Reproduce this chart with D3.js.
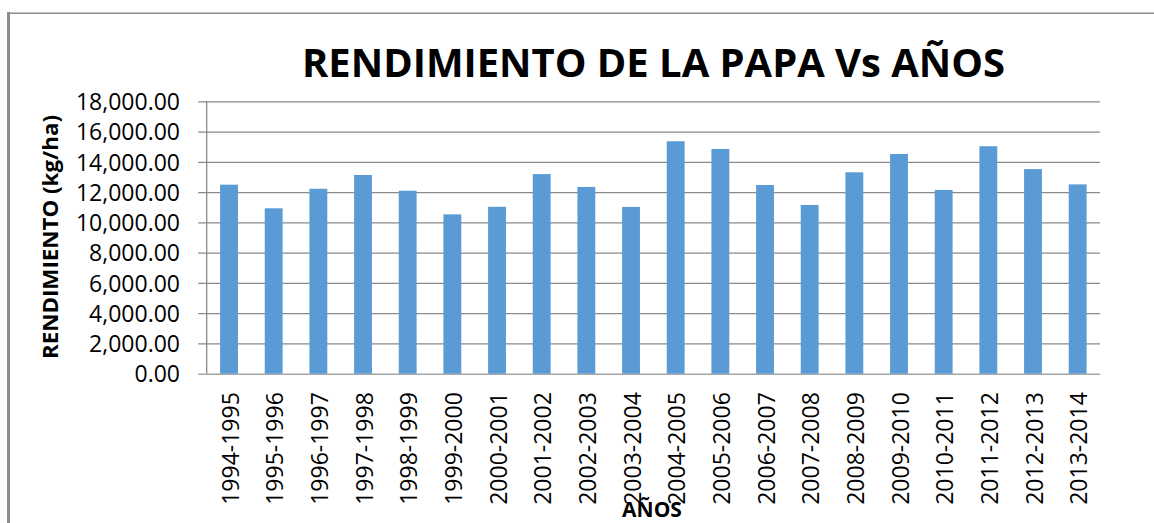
<!DOCTYPE html>
<html>
<head>
<meta charset="utf-8">
<script src="https://cdn.jsdelivr.net/npm/d3@7"></script>
<style>
  body { margin: 0; background: #fff; }
  svg { display: block; font-family: "Open Sans", sans-serif; }
</style>
</head>
<body>
<div id="chart"></div>
<script>
// campaign years
var years = ["1994-1995", "1995-1996", "1996-1997", "1997-1998", "1998-1999",
	"1999-2000", "2000-2001", "2001-2002", "2002-2003", "2003-2004",
	"2004-2005", "2005-2006", "2006-2007", "2007-2008", "2008-2009",
	"2009-2010", "2010-2011", "2011-2012", "2012-2013", "2013-2014"];

// rendimiento kg/ha
var rendimiento = [12490, 10930, 12220, 13130, 12090,
	10530, 11030, 13190, 12340, 11020,
	15360, 14850, 12470, 11150, 13310,
	14520, 12140, 15030, 13520, 12510];

var yTicks = [0, 2000, 4000, 6000, 8000, 10000, 12000, 14000, 16000, 18000];

var data = years.map((d, i) => ({ year: d, value: rendimiento[i] }));

var W = 1154, H = 523;
var plot = { left: 206.7, right: 1100, top: 101.3, bottom: 373.7 };

var svg = d3.select("#chart")
	.append("svg")
	.attr("width", W)
	.attr("height", H);

// outer frame (chart area border, partly cut off)
svg.append("line")
	.attr("x1", 8.5).attr("x2", 8.5)
	.attr("y1", 12).attr("y2", H)
	.attr("stroke", "#8c8c8c").attr("stroke-width", 3);
svg.append("line")
	.attr("x1", 7).attr("x2", W)
	.attr("y1", 13.2).attr("y2", 13.2)
	.attr("stroke", "#8c8c8c").attr("stroke-width", 1.6);

var xScale = d3.scaleBand()
	.domain(years)
	.range([plot.left, plot.right])
	.paddingInner(0.6)
	.paddingOuter(0.3);

var yScale = d3.scaleLinear()
	.domain([0, 18000])
	.range([plot.bottom, plot.top]);

// gridlines + little tick marks left of the axis
var grid = svg.append("g")
	.attr("transform", `translate(${plot.left - 8.5},0)`)
	.call(d3.axisRight(yScale).tickValues(yTicks)
		.tickSize(plot.right - plot.left + 8.5).tickFormat(""));
grid.select(".domain").remove();
grid.selectAll("line")
	.attr("stroke", "#8a8a8a")
	.attr("stroke-width", 1.3);
grid.selectAll("line").filter(d => d === 0)
	.attr("stroke", "#a6a6a6")
	.attr("stroke-width", 1.6);

// vertical axis line
svg.append("line")
	.attr("x1", plot.left).attr("x2", plot.left)
	.attr("y1", plot.top).attr("y2", plot.bottom)
	.attr("stroke", "#8a8a8a")
	.attr("stroke-width", 1.3);

// bars
svg.selectAll("rect.bar")
	.data(data)
	.enter()
	.append("rect")
	.attr("class", "bar")
	.attr("x", d => xScale(d.year))
	.attr("y", d => yScale(d.value))
	.attr("width", xScale.bandwidth())
	.attr("height", d => yScale(0) - yScale(d.value))
	.attr("fill", "#5b9bd5");

// y tick labels
var yAxis = svg.append("g")
	.attr("transform", `translate(${plot.left},0)`)
	.call(d3.axisLeft(yScale).tickValues(yTicks)
		.tickSize(0).tickPadding(26.7).tickFormat(d3.format(",.2f")));
yAxis.select(".domain").remove();
yAxis.selectAll("text")
	.attr("font-family", "'Open Sans', sans-serif")
	.attr("font-size", 23)
	.attr("fill", "#000")
	.attr("dy", "0.36em");

// x tick labels, rotated
var xAxis = svg.append("g")
	.attr("transform", `translate(0,${plot.bottom})`)
	.call(d3.axisBottom(xScale).tickSize(0));
xAxis.select(".domain").remove();
xAxis.selectAll("text")
	.attr("font-family", "'Open Sans', sans-serif")
	.attr("font-size", 23)
	.attr("fill", "#000")
	.attr("text-anchor", "end")
	.attr("dy", null)
	.attr("y", 0)
	.attr("x", 0)
	.attr("transform", "translate(9.5,18.5) rotate(-90)");

// title
svg.append("text")
	.attr("x", 302)
	.attr("y", 76.7)
	.attr("font-size", 40)
	.attr("font-weight", "bold")
	.attr("textLength", 703)
	.attr("lengthAdjust", "spacingAndGlyphs")
	.text("RENDIMIENTO DE LA PAPA Vs AÑOS");

// axis titles
svg.append("text")
	.attr("transform", "translate(58,237) rotate(-90)")
	.attr("text-anchor", "middle")
	.attr("font-size", 21)
	.attr("font-weight", "bold")
	.attr("textLength", 244)
	.attr("lengthAdjust", "spacingAndGlyphs")
	.text("RENDIMIENTO (kg/ha)");

svg.append("text")
	.attr("x", 652)
	.attr("y", 516.7)
	.attr("text-anchor", "middle")
	.attr("font-size", 21)
	.attr("font-weight", "bold")
	.text("AÑOS");
</script>
</body>
</html>
